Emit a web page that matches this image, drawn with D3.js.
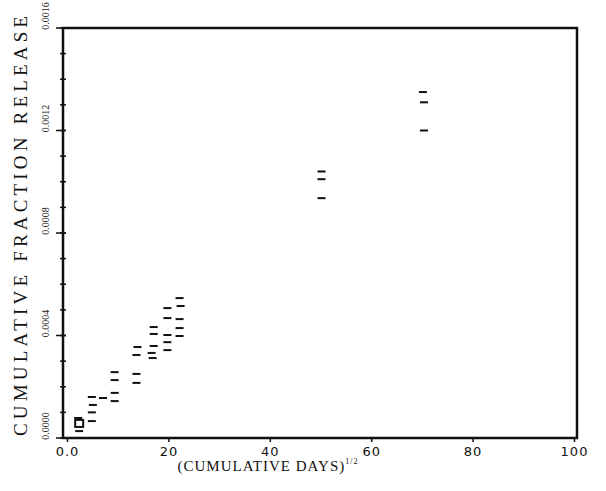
<!DOCTYPE html>
<html>
<head>
<meta charset="utf-8">
<script src="https://cdn.jsdelivr.net/npm/d3@7"></script>
<style>
  body { margin: 0; background: #fff; }
  svg { display: block; }
</style>
</head>
<body>
<div class="chart"></div>
<script>
// data: x = (cumulative days)^1/2, y = cumulative fraction release
var dashX = [2.2, 2.4, 4.9, 5.1, 4.9, 4.9, 7.1,
             9.4, 9.4, 9.4, 9.4,
             13.9, 13.7, 13.7, 13.7,
             17.1, 17.1, 17.1, 16.7, 16.9,
             19.8, 19.8, 19.8, 19.8, 19.8,
             22.2, 22.4, 22.2, 22.2, 22.2,
             50.2, 50.2, 50.2,
             70.2, 70.4, 70.4];
var dashY = [0.000078, 0.000027, 0.000160, 0.000129, 0.000100, 0.000066, 0.000156,
             0.000257, 0.000226, 0.000176, 0.000144,
             0.000355, 0.000324, 0.000250, 0.000215,
             0.000433, 0.000406, 0.000359, 0.000332, 0.000312,
             0.000507, 0.000468, 0.000402, 0.000374, 0.000343,
             0.000546, 0.000515, 0.000464, 0.000429, 0.000398,
             0.00104, 0.00101, 0.000936,
             0.00135, 0.00131, 0.00120];
var squareX = [2.4];
var squareY = [0.000055];

var xTicks = [0, 20, 40, 60, 80, 100];
var xTickLabels = ["0.0", "20", "40", "60", "80", "100"];
var yTicks = [0, 0.0004, 0.0008, 0.0012, 0.0016];
var yTickLabels = ["0.0000", "0.0004", "0.0008", "0.0012", "0.0016"];

var svgWidth = 606;
var svgHeight = 491;
var plotLeft = 63, plotRight = 577, plotTop = 28, plotBottom = 438;

var svg = d3.select(".chart").append("svg")
  .attr("width", svgWidth)
  .attr("height", svgHeight);

var xScale = d3.scaleLinear().domain([0, 100]).range([67, 574]);
var yScale = d3.scaleLinear().domain([0, 0.0016]).range([plotBottom, plotTop]);

// frame
svg.append("rect")
  .attr("x", plotLeft).attr("y", plotTop)
  .attr("width", plotRight - plotLeft).attr("height", plotBottom - plotTop)
  .attr("fill", "none").attr("stroke", "#111").attr("stroke-width", 2.5);

// y minor + major ticks
var yMinor = d3.range(0, 0.00161, 0.0001);
svg.selectAll(".ymin").data(yMinor).enter().append("line")
  .attr("x1", plotLeft - 3).attr("x2", plotLeft + 3)
  .attr("y1", function(d) { return yScale(d); })
  .attr("y2", function(d) { return yScale(d); })
  .attr("stroke", "#111").attr("stroke-width", 1.5);
svg.selectAll(".ymaj").data(yTicks).enter().append("line")
  .attr("x1", plotLeft - 7).attr("x2", plotLeft + 3)
  .attr("y1", function(d) { return yScale(d); })
  .attr("y2", function(d) { return yScale(d); })
  .attr("stroke", "#111").attr("stroke-width", 1.5);

// x ticks
var xAxis = d3.axisBottom(xScale)
  .tickValues(xTicks)
  .tickSize(4)
  .tickFormat(function(d, i) { return xTickLabels[i]; });
var gx = svg.append("g")
  .attr("transform", "translate(0," + plotBottom + ")")
  .call(xAxis);
gx.select(".domain").remove();
gx.selectAll("line").attr("stroke", "#111").attr("stroke-width", 1.5);
gx.selectAll("text")
  .attr("y", 9)
  .attr("fill", "#111")
  .style("font-family", "'DejaVu Sans', sans-serif")
  .style("font-size", "13px")
  .style("letter-spacing", "1px");

// y tick labels, rotated
svg.selectAll(".ylab").data(yTicks).enter().append("text")
  .attr("transform", function(d) {
    return "translate(49," + (yScale(d) - 12) + ") rotate(-90)";
  })
  .attr("text-anchor", "middle")
  .attr("fill", "#222")
  .style("font-family", "'Liberation Serif', serif")
  .style("font-size", "10px")
  .text(function(d, i) { return yTickLabels[i]; });

// axis titles
svg.append("text")
  .attr("transform", "translate(27,226) rotate(-90)")
  .attr("text-anchor", "middle")
  .attr("fill", "#111")
  .attr("textLength", 420)
  .attr("lengthAdjust", "spacing")
  .style("font-family", "'Liberation Serif', serif")
  .style("font-size", "19px")
  .text("CUMULATIVE FRACTION RELEASE");

var xt = svg.append("text")
  .attr("x", 268).attr("y", 471)
  .attr("text-anchor", "middle")
  .attr("fill", "#111")
  .style("font-family", "'Liberation Serif', serif")
  .style("font-size", "15px")
  .style("letter-spacing", "1px");
xt.append("tspan").text("(CUMULATIVE  DAYS)");
xt.append("tspan").attr("dy", -7).style("font-size", "8px").text("1/2");

// data marks
var pts = dashX.map(function(x, i) { return {x: x, y: dashY[i]}; });
svg.selectAll(".dash").data(pts).enter().append("rect")
  .attr("x", function(d) { return xScale(d.x) - 4; })
  .attr("y", function(d) { return yScale(d.y) - 1; })
  .attr("width", 8).attr("height", 2)
  .attr("fill", "#111");

var sq = squareX.map(function(x, i) { return {x: x, y: squareY[i]}; });
svg.selectAll(".sq").data(sq).enter().append("rect")
  .attr("x", function(d) { return xScale(d.x) - 4; })
  .attr("y", function(d) { return yScale(d.y) - 4; })
  .attr("width", 8).attr("height", 7)
  .attr("fill", "none").attr("stroke", "#111").attr("stroke-width", 2);
</script>
</body>
</html>
